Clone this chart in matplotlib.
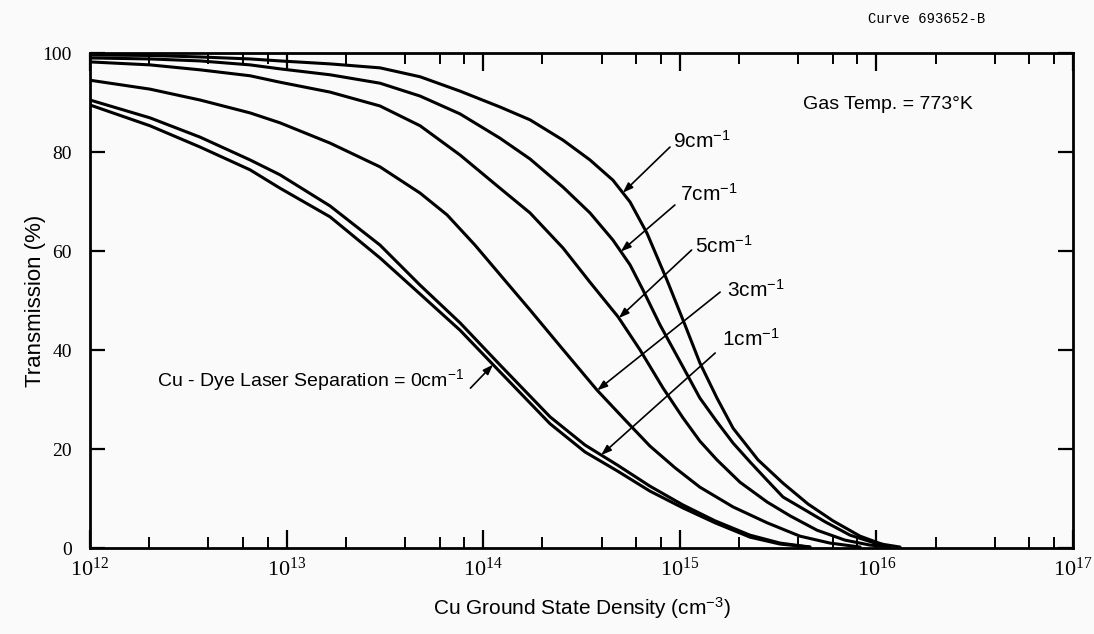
#### Transmission vs Cu ground state density ####

import matplotlib.pyplot as plt
import matplotlib.ticker as mticker
import numpy as np
from matplotlib import font_manager

# Global Setting
names = {f.name for f in font_manager.fontManager.ttflist}
sans = 'Liberation Sans Narrow' if 'Liberation Sans Narrow' in names else 'Liberation Sans'
serif = 'Liberation Serif'
plt.rcParams['font.family'] = [sans, 'DejaVu Sans']
plt.rcParams['axes.linewidth'] = 2.0

## Data: log10(density / cm^-3) and transmission (%) for each separation (cm^-1)
separations = ['0', '1', '3', '5', '7', '9']

logn_0 = [12.000, 12.305, 12.560, 12.814, 12.966, 13.221, 13.475, 13.679, 13.882, 14.085,
          14.340, 14.518, 14.681, 14.848, 15.016, 15.179, 15.357, 15.510, 15.662]
t_0 = [89.5, 85.3, 81.0, 76.4, 72.7, 66.9, 58.6, 51.3, 44.0, 35.6,
       25.1, 19.4, 15.6, 11.5, 8.1, 5.1, 2.2, 0.8, 0.2]

logn_1 = [12.000, 12.305, 12.560, 12.814, 12.966, 13.221, 13.475, 13.679, 13.882, 14.085,
          14.340, 14.518, 14.681, 14.848, 15.016, 15.179, 15.357, 15.510, 15.662]
t_1 = [90.5, 86.9, 83.0, 78.4, 75.4, 69.1, 61.2, 53.1, 45.5, 37.0,
       26.5, 20.8, 16.8, 12.5, 8.7, 5.5, 2.6, 1.0, 0.2]

logn_3 = [12.000, 12.305, 12.560, 12.814, 12.966, 13.221, 13.475, 13.679, 13.816, 13.958,
          14.101, 14.238, 14.391, 14.579, 14.721, 14.848, 14.976, 15.102, 15.271, 15.444,
          15.611, 15.764, 15.917]
t_3 = [94.5, 92.7, 90.5, 87.9, 85.9, 81.8, 77.0, 71.7, 67.3, 61.2,
       54.5, 48.1, 40.8, 31.9, 25.9, 20.6, 16.2, 12.3, 8.3, 5.1,
       2.4, 1.0, 0.2]

logn_5 = [12.000, 12.305, 12.560, 12.814, 12.966, 13.221, 13.475, 13.679, 13.882, 14.085,
          14.238, 14.406, 14.543, 14.686, 14.798, 14.915, 15.016, 15.102, 15.189, 15.306,
          15.444, 15.561, 15.698, 15.840, 15.967, 16.069]
t_5 = [98.2, 97.6, 96.6, 95.4, 94.1, 92.1, 89.3, 85.3, 79.4, 72.7,
       67.7, 60.6, 53.7, 46.7, 40.0, 32.3, 26.3, 21.6, 17.8, 13.3,
       9.3, 6.5, 3.6, 1.6, 0.6, 0.2]

logn_7 = [12.000, 12.305, 12.560, 12.814, 12.966, 13.221, 13.475, 13.679, 13.882, 14.085,
          14.238, 14.406, 14.543, 14.660, 14.747, 14.813, 14.899, 15.016, 15.102, 15.189,
          15.271, 15.357, 15.444, 15.525, 15.611, 15.739, 15.866, 15.993, 16.120]
t_7 = [99.0, 98.8, 98.4, 97.6, 96.8, 95.6, 93.9, 91.3, 87.7, 82.8,
       78.6, 72.9, 67.7, 62.2, 57.2, 52.1, 45.1, 36.6, 30.3, 25.5,
       21.2, 17.4, 13.7, 10.3, 8.3, 5.3, 2.6, 1.0, 0.2]

logn_9 = [12.000, 12.305, 12.560, 12.814, 12.966, 13.221, 13.475, 13.679, 13.882, 14.085,
          14.238, 14.406, 14.543, 14.660, 14.747, 14.833, 14.935, 15.026, 15.102, 15.189,
          15.271, 15.398, 15.525, 15.652, 15.779, 15.917, 16.054]
t_9 = [99.6, 99.5, 99.2, 98.8, 98.4, 97.8, 97.0, 95.2, 92.3, 89.1,
       86.5, 82.4, 78.4, 74.3, 69.9, 63.6, 54.1, 45.1, 37.4, 30.3,
       24.2, 17.8, 13.1, 8.9, 5.5, 2.4, 0.4]

curves = [(logn_0, t_0), (logn_1, t_1), (logn_3, t_3), (logn_5, t_5), (logn_7, t_7), (logn_9, t_9)]

# where each label's arrow touches its curve (log10 density)
arrow_logn = [14.05, 14.60, 14.58, 14.69, 14.70, 14.71]
# leader-line start and label position (axes fraction)
leader_start = [(0.387, 0.323), (0.636, 0.394), (0.641, 0.517), (0.612, 0.602), (0.595, 0.693), (0.590, 0.810)]
label_pos = [(0.380, 0.340), (0.643, 0.422), (0.648, 0.521), (0.615, 0.610), (0.600, 0.715), (0.593, 0.822)]

xticks = [1e12, 1e13, 1e14, 1e15, 1e16, 1e17]
xticklabels = [r'$\mathregular{10^{%d}}$' % p for p in range(12, 18)]
yticks = [0, 20, 40, 60, 80, 100]

fig = plt.figure(figsize=(10.94, 6.34), dpi=100, facecolor='#fafafa')
ax = fig.add_axes([0.0823, 0.1356, 0.8985, 0.7808])
ax.set_facecolor('#fafafa')

for logn, t in curves:
    ax.plot(10 ** np.array(logn), t, color='black', lw=2.2, solid_joinstyle='round', solid_capstyle='round')

ax.set_xscale('log')
ax.set_xlim(1e12, 1e17)
ax.set_ylim(0, 100)

## Ticks
ax.set_xticks(xticks)
ax.set_xticklabels(xticklabels, family=serif, size=16)
ax.xaxis.set_minor_locator(mticker.LogLocator(base=10, subs=[2, 4, 6, 8]))
ax.xaxis.set_minor_formatter(mticker.NullFormatter())
ax.set_yticks(yticks)
ax.set_yticklabels([str(v) for v in yticks], family=serif, size=14)
ax.tick_params(direction='in', top=True, right=True, which='both', color='black')
ax.tick_params(axis='x', which='major', length=13, width=1.6, pad=7)
ax.tick_params(axis='x', which='minor', length=8, width=1.4)
ax.tick_params(axis='y', which='major', length=11, width=1.6, pad=13)

## Labels
ax.set_ylabel('Transmission (%)', size=16)
ax.set_xlabel(r'Cu Ground State Density (cm$\mathregular{^{-3}}$)', size=15)
ax.yaxis.set_label_coords(-0.045, 0.5)
ax.xaxis.set_label_coords(0.5, -0.095)

## Curve labels with leader lines
for i, (logn, t) in enumerate(curves):
    tip_x = 10 ** arrow_logn[i]
    tip_y = np.interp(arrow_logn[i], logn, t)
    ax.annotate('', xy=(tip_x, tip_y), xycoords='data',
                xytext=leader_start[i], textcoords='axes fraction',
                arrowprops=dict(arrowstyle='-|>,head_length=0.5,head_width=0.18',
                                color='black', lw=1.2, shrinkA=0, shrinkB=0, mutation_scale=12))
    if i == 0:
        ax.text(*label_pos[i], r'Cu - Dye Laser Separation = 0cm$\mathregular{^{-1}}$',
                transform=ax.transAxes, size=14, ha='right', va='center')
    else:
        ax.text(*label_pos[i], separations[i] + r'cm$\mathregular{^{-1}}$',
                transform=ax.transAxes, size=15, ha='left', va='center')

ax.text(0.725, 0.895, 'Gas Temp. = 773°K', transform=ax.transAxes, size=14, ha='left', va='center')
fig.text(0.793, 0.970, 'Curve 693652-B', family='Liberation Mono', size=10, ha='left', va='center')

fig.savefig('out.png', dpi=100, facecolor=fig.get_facecolor())
